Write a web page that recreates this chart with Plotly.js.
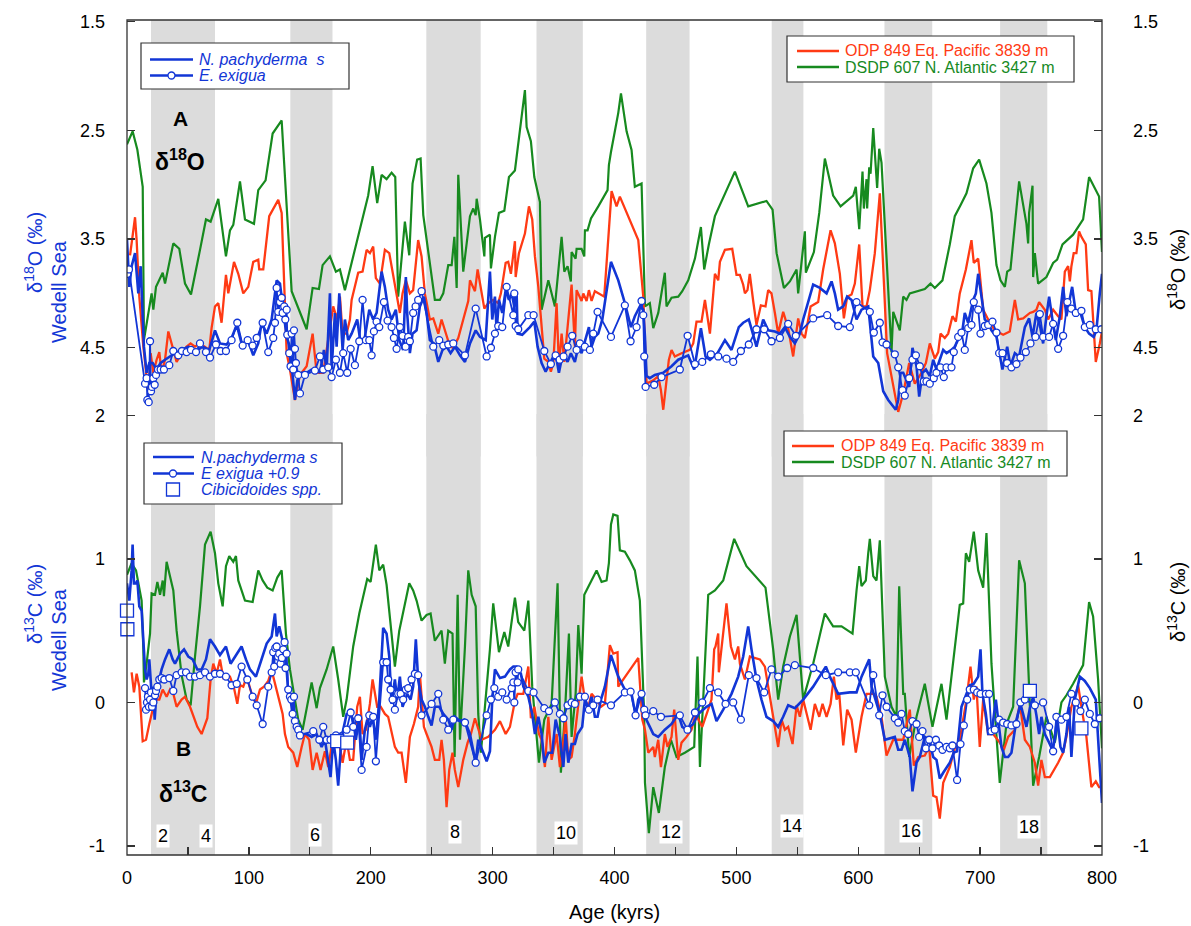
<!DOCTYPE html>
<html><head><meta charset="utf-8">
<script src="https://cdn.plot.ly/plotly-3.0.1.min.js"></script>
<style>html,body{margin:0;padding:0;background:#fff}#chart{width:1191px;height:926px}</style>
</head><body><div id="chart"></div>
<script>
// ---------------- DATA ----------------
// Glacial stages (grey bands), kyr
const glacialStart = [19.7, 134, 245.6, 336, 426, 529, 621.5, 716.4];
const glacialEnd   = [72.2, 168.6, 290.2, 374, 461.6, 555, 660.7, 755.1];
const stageNumbers = ['2','4','6','8','10','12','14','16','18'];
const stageAges    = [29.5, 64.6, 154, 269, 360, 446.7, 545.5, 643, 740];

// Panel A: d18O  [age kyr, permil]
const dsdp607_d18O = [[0,2.63],[4.6,2.51],[8.5,2.68],[12.9,3.02],[13.9,4.43],[20.2,4.00],[21.6,4.15],[23.8,3.94],[29.3,3.81],[31.2,3.91],[38.0,3.54],[42.9,3.59],[47.6,3.91],[52.5,4.01],[59.9,3.60],[64.8,3.32],[68.6,3.34],[74.9,3.13],[81.2,3.66],[84.5,3.42],[87.2,3.37],[92.7,2.97],[96.8,3.32],[104.2,3.36],[107.7,3.05],[113.7,2.96],[119.5,2.53],[126.9,2.41],[135.1,3.98],[141.9,4.18],[147.4,4.33],[152.3,3.95],[157.5,3.96],[160.5,3.74],[166.5,3.66],[171.4,3.80],[174.7,3.78],[178.8,3.97],[197.9,3.10],[201.5,2.83],[205.3,3.17],[208.9,2.91],[213.0,2.95],[217.1,2.89],[220.1,2.93],[222.5,4.03],[228.0,3.34],[231.6,3.65],[234.3,2.99],[238.1,2.77],[240.9,2.76],[243.1,3.28],[252.6,4.06],[256.7,4.06],[259.5,4.00],[263.6,3.74],[266.4,3.74],[268.6,3.48],[270.5,3.95],[271.8,2.91],[275.9,3.80],[281.4,3.29],[284.1,3.22],[286.1,3.28],[286.9,3.13],[289.6,3.32],[293.2,3.66],[293.7,3.49],[297.8,3.46],[298.6,3.77],[301.9,3.48],[305.2,3.26],[309.6,3.24],[313.4,2.93],[318.3,2.87],[326.5,2.13],[327.9,2.47],[331.4,2.60],[334.2,2.93],[338.8,3.16],[340.2,4.15],[345.7,3.88],[351.1,4.12],[356.6,3.48],[358.8,3.80],[361.5,3.75],[364.2,3.89],[364.8,3.62],[368.1,3.68],[368.9,3.59],[373.0,3.59],[375.2,3.66],[375.7,3.42],[377.9,3.42],[380.7,3.31],[386.7,3.20],[390.0,3.13],[394.3,3.05],[395.4,2.82],[397.1,2.70],[403.1,2.34],[405.3,2.16],[409.9,2.51],[414.0,2.68],[416.7,3.02],[422.2,2.99],[425.0,4.12],[429.0,4.09],[431.8,4.32],[435.9,4.18],[441.3,3.81],[442.7,4.12],[446.8,4.04],[452.3,4.03],[455.6,3.98],[460.5,3.88],[466.0,3.68],[470.9,3.39],[473.6,3.78],[477.4,3.55],[482.4,3.29],[498.8,2.88],[509.7,3.20],[524.7,3.15],[529.7,3.23],[533.0,3.63],[539.0,3.95],[543.9,3.89],[549.4,3.78],[550.7,4.00],[556.2,3.43],[557.0,3.81],[563.6,3.62],[568.0,3.26],[572.6,2.76],[579.4,3.10],[585.5,3.20],[595.9,3.10],[598.0,3.02],[600.8,3.41],[603.5,2.88],[604.6,3.22],[606.8,2.95],[607.3,3.22],[609.0,2.84],[610.1,2.90],[612.3,2.48],[615.5,3.03],[617.2,2.67],[619.1,2.80],[627.3,4.54],[628.7,4.17],[634.1,4.34],[636.9,4.03],[639.6,4.06],[642.3,4.00],[654.6,3.96],[659.3,3.91],[662.8,3.95],[669.1,3.88],[675.1,3.55],[679.2,3.29],[683.9,3.19],[688.8,3.08],[694.3,2.85],[699.2,2.77],[705.2,2.99],[709.3,3.26],[713.4,3.74],[716.7,3.88],[720.3,3.94],[722.2,3.80],[724.9,3.78],[732.0,2.97],[738.0,3.36],[739.4,3.54],[740.2,3.26],[743.0,3.01],[743.5,3.85],[744.9,3.63],[747.6,3.91],[754.4,3.85],[759.9,3.72],[763.2,3.69],[767.6,3.55],[776.3,3.46],[784.5,3.32],[789.4,2.93],[797.6,3.11],[800,3.62]];

const odp849_d18O = [[2.5,3.65],[4.6,3.48],[6.6,3.30],[7.9,3.51],[10.1,4.03],[13.4,4.49],[15.6,4.76],[17.5,4.92],[19.4,4.55],[21.6,4.73],[24.3,4.61],[26.5,4.54],[28.4,4.73],[31.2,4.61],[33.9,4.35],[37.5,4.49],[40.7,4.63],[44.8,4.55],[48.9,4.49],[52.2,4.46],[55.8,4.49],[59.9,4.46],[64.0,4.49],[67.5,4.52],[69.4,4.32],[72.2,4.12],[74.9,4.09],[77.6,4.27],[81.2,3.83],[83.1,4.00],[87.8,3.71],[91.3,3.82],[95.4,4.00],[99.5,3.94],[103.6,3.71],[107.7,3.69],[108.5,3.78],[111.8,3.78],[116.7,3.29],[124.1,3.14],[126.9,3.26],[131.0,4.55],[133.7,4.70],[137.8,4.98],[141.9,4.75],[147.4,4.67],[152.3,4.37],[155.6,4.73],[161.0,4.73],[165.1,4.43],[169.2,4.12],[172.5,4.24],[174.7,4.03],[176.9,4.37],[180.2,4.37],[182.9,4.24],[184.3,4.06],[189.7,3.81],[193.3,3.80],[196.6,3.60],[199.3,3.63],[202.0,3.57],[204.2,3.86],[207.5,3.91],[211.6,3.60],[215.2,3.63],[219.8,3.94],[223.9,4.18],[226.1,4.00],[228.8,3.88],[232.1,4.00],[234.8,3.97],[238.9,3.51],[241.7,3.66],[244.4,4.00],[248.5,4.24],[251.3,4.23],[255.4,4.37],[258.1,4.24],[261.6,4.37],[265.0,4.49],[267.7,4.50],[271.8,4.41],[275.9,4.24],[280.0,4.07],[281.4,3.88],[285.5,3.98],[287.7,3.78],[293.2,4.14],[296.4,4.09],[300.5,4.06],[304.6,4.09],[306.8,4.00],[310.7,3.72],[312.8,3.71],[315.0,3.82],[318.3,3.52],[318.9,3.85],[321.6,3.63],[326.5,3.45],[329.8,3.20],[332.5,3.32],[334.7,3.66],[337.5,3.94],[339.6,4.24],[342.4,4.60],[345.7,4.63],[347.8,4.72],[349.8,4.64],[352.5,4.09],[354.4,4.67],[356.6,4.37],[358.8,4.63],[361.5,4.31],[364.8,3.92],[367.5,4.49],[368.9,3.97],[373.0,4.07],[374.4,4.00],[377.1,4.07],[379.0,3.97],[381.2,4.07],[383.9,3.98],[391.6,4.03],[394.3,3.60],[397.6,3.06],[401.7,3.20],[404.4,3.11],[419.5,3.51],[422.2,3.88],[423.6,4.03],[426.3,4.83],[431.8,4.80],[435.9,4.76],[438.1,4.89],[440.0,5.07],[442.7,4.83],[444.6,4.61],[446.8,4.52],[449.5,4.58],[455.0,4.55],[461.8,4.52],[464.6,4.46],[467.3,4.26],[471.4,4.26],[474.2,4.06],[478.3,4.37],[482.4,3.82],[485.1,3.88],[486.5,3.71],[490.6,3.60],[496.6,3.59],[500.1,3.83],[502.9,3.83],[505.6,3.92],[507.0,4.00],[509.1,3.97],[511.0,3.82],[513.8,4.07],[516.5,4.29],[520.1,4.11],[523.9,4.12],[526.1,3.97],[528.8,4.00],[531.6,4.18],[534.3,4.37],[538.4,4.17],[542.5,4.32],[546.6,4.58],[550.7,4.23],[553.5,4.37],[556.2,4.41],[560.9,4.12],[567.1,4.08],[571.2,3.78],[577.3,3.42],[580.8,3.54],[584.9,3.82],[588.2,4.23],[590.9,4.03],[594.5,4.01],[597.2,3.91],[600.8,3.55],[603.5,4.12],[606.8,4.12],[609.5,3.97],[613.6,3.63],[617.7,3.08],[623.7,4.55],[628.7,4.86],[632.8,5.09],[636.9,4.92],[641.8,4.64],[646.4,4.83],[651.9,4.73],[655.5,4.64],[658.7,4.46],[662.8,4.60],[665.6,4.54],[667.5,4.37],[671.0,4.41],[673.8,4.37],[677.3,4.21],[680.1,4.26],[683.3,4.00],[688.3,3.78],[692.9,3.51],[694.8,3.72],[698.4,3.68],[699.7,3.82],[702.5,4.15],[706.6,4.24],[712.0,4.34],[718.9,4.38],[724.3,4.35],[728.5,4.06],[731.2,4.24],[735.3,4.23],[740.8,4.18],[743.5,4.17],[746.2,4.15],[748.4,4.08],[753.1,4.15],[755.8,4.24],[759.9,4.15],[764.0,4.21],[766.7,4.24],[769.5,3.80],[772.2,3.75],[773.6,3.89],[774.9,3.75],[776.8,3.63],[779.0,3.63],[781.2,3.43],[783.1,3.48],[786.7,3.55],[788.6,3.97],[791.3,3.98],[794.9,4.63],[798.2,4.46],[800,4.35]];

const npachy_d18O = [[0,3.51],[1.9,3.94],[3.8,3.75],[6.6,3.63],[9.3,4.00],[11.2,3.75],[13.9,4.49],[16.1,4.73],[18.3,4.64],[21.1,4.64],[24.3,4.70],[27.6,4.64],[31.2,4.61],[35.3,4.58],[39.4,4.55],[44.8,4.52],[50.3,4.49],[56.6,4.53],[62.1,4.49],[67.5,4.52],[72.2,4.34],[76.3,4.46],[81.7,4.47],[85.8,4.41],[90.0,4.29],[94.0,4.46],[99.5,4.44],[103.6,4.57],[107.7,4.46],[110.5,4.27],[114.6,4.37],[118.7,4.24],[122.8,3.88],[125.5,3.91],[128.2,4.18],[131.0,4.40],[133.7,4.49],[136.4,4.86],[137.8,4.98],[139.7,4.80],[143.3,4.73],[147.4,4.73],[151.5,4.70],[155.6,4.70],[158.3,4.73],[161.6,4.52],[163.8,4.70],[166.5,4.00],[167.9,4.70],[170.6,4.18],[172.0,4.49],[174.2,4.00],[176.9,4.52],[178.8,4.24],[181.5,4.43],[184.3,4.37],[188.9,4.24],[191.7,4.46],[195.2,4.40],[198.8,4.15],[202.0,4.24],[204.8,4.18],[208.9,3.80],[211.6,3.94],[214.3,4.15],[217.1,4.24],[220.6,4.15],[223.4,4.43],[226.6,4.52],[228.8,3.85],[229.9,4.18],[232.1,4.55],[234.3,4.37],[237.6,4.34],[240.3,4.12],[243.6,4.03],[245.8,4.18],[248.5,4.43],[251.8,4.46],[255.4,4.63],[258.9,4.52],[262.2,4.49],[265.5,4.55],[269.1,4.49],[273.2,4.57],[277.3,4.63],[281.4,4.46],[286.1,4.34],[289.6,4.40],[294.3,4.43],[297.8,3.80],[299.7,4.24],[301.9,4.03],[303.3,4.34],[305.2,4.06],[307.9,4.18],[310.7,3.97],[313.4,4.06],[315.6,4.00],[317.8,4.12],[319.7,4.00],[320.5,4.37],[324.3,4.38],[330.6,4.31],[334.2,4.26],[336.9,4.49],[340.2,4.64],[343.5,4.72],[347.0,4.64],[349.8,4.58],[352.5,4.61],[354.4,4.73],[357.1,4.58],[359.3,4.58],[361.5,4.63],[364.2,4.55],[367.5,4.63],[370.3,4.49],[373.0,4.55],[375.7,4.43],[379.0,4.31],[381.2,4.49],[383.9,4.40],[386.7,4.37],[390.0,4.24],[397.1,3.71],[403.1,3.88],[408.5,4.09],[413.5,4.31],[416.7,4.21],[420.8,4.12],[423.6,4.15],[425.0,4.40],[426.3,4.76],[429.0,4.78],[433.1,4.75],[440.0,4.73],[446.8,4.67],[452.3,4.61],[460.5,4.57],[465.4,4.70],[470.9,4.32],[474.7,4.58],[478.3,4.61],[484.5,4.55],[490.6,4.43],[496.0,4.52],[502.0,4.31],[505.6,4.27],[510.2,4.24],[513.8,4.37],[516.5,4.49],[522.0,4.24],[526.1,4.34],[531.6,4.35],[535.7,4.37],[539.8,4.31],[543.9,4.40],[548.0,4.46],[552.1,4.37],[554.8,4.24],[563.0,3.92],[568.5,3.95],[574.0,4.00],[578.1,3.89],[580.8,4.00],[583.5,4.15],[587.7,4.12],[590.9,4.03],[594.5,4.06],[598.6,4.24],[602.7,4.15],[608.2,4.12],[610.9,4.43],[612.3,4.58],[616.4,4.64],[620.5,4.90],[624.6,4.98],[628.7,5.04],[630.8,5.07],[632.8,4.98],[634.7,4.73],[636.9,4.73],[641.8,4.86],[644.5,4.50],[647.8,4.67],[650.0,4.95],[652.7,4.73],[655.5,4.70],[658.7,4.76],[661.5,4.61],[664.2,4.70],[666.9,4.61],[669.7,4.52],[672.4,4.55],[676.5,4.52],[679.2,4.49],[683.3,4.40],[685.5,4.34],[687.4,4.18],[690.2,4.27],[694.3,4.06],[696.5,4.00],[698.4,3.82],[701.1,4.03],[703.8,4.24],[706.6,4.27],[709.3,4.34],[713.4,4.40],[716.1,4.55],[718.3,4.70],[722.2,4.49],[724.9,4.67],[728.5,4.55],[732.0,4.58],[736.7,4.31],[740.2,4.23],[743.0,4.40],[746.2,4.18],[749.5,4.32],[751.7,4.46],[754.4,4.21],[756.6,4.03],[759.3,4.24],[762.1,4.43],[765.4,4.21],[768.1,3.94],[770.8,4.21],[773.6,4.06],[775.5,3.94],[778.5,4.18],[782.3,4.18],[785.9,4.31],[789.4,4.37],[793.2,4.40],[795.4,4.34],[798.2,4.00],[800,3.82]];

const exigua_d18O = [[0.3,3.82],[1.6,3.78],[14.8,4.83],[16.1,4.78],[16.7,4.98],[17.8,5.00],[18.9,4.44],[19.7,4.90],[20.5,4.86],[21.6,4.78],[22.7,4.84],[23.8,4.75],[25.4,4.70],[27.6,4.70],[30.3,4.70],[34.7,4.66],[38.0,4.53],[42.1,4.57],[45.1,4.53],[48.9,4.54],[52.5,4.52],[56.6,4.54],[59.9,4.46],[64.8,4.54],[68.1,4.59],[73.0,4.47],[76.8,4.53],[81.2,4.53],[85.8,4.43],[90.5,4.27],[94.9,4.48],[99.0,4.43],[103.1,4.48],[106.4,4.41],[111.3,4.27],[115.9,4.54],[120.0,4.41],[121.4,4.27],[122.8,3.95],[124.1,4.17],[125.5,4.08],[126.9,4.04],[127.7,4.18],[129.0,4.12],[129.9,4.24],[131.0,4.15],[131.5,4.38],[133.1,4.55],[134.2,4.67],[135.1,4.37],[136.4,4.70],[137.0,4.34],[137.8,4.51],[138.6,4.64],[140.5,4.75],[141.9,4.92],[146.0,4.75],[154.2,4.71],[158.3,4.58],[161.0,4.70],[165.1,4.68],[167.9,4.77],[171.4,4.61],[174.7,4.73],[177.4,4.55],[180.7,4.73],[183.5,4.51],[187.0,4.66],[190.6,4.44],[193.3,4.06],[196.0,4.43],[198.8,4.43],[200.7,4.57],[202.6,4.35],[204.8,4.26],[207.0,4.31],[210.8,4.08],[213.8,4.25],[217.1,4.31],[219.0,4.41],[221.2,4.51],[223.9,4.31],[226.1,4.39],[228.6,4.49],[230.7,4.40],[232.1,4.44],[234.8,4.18],[236.8,4.12],[238.9,4.06],[241.7,3.98],[251.3,4.49],[256.2,4.43],[259.5,4.48],[263.6,4.47],[267.7,4.46],[277.3,4.57],[286.1,4.14],[295.1,4.58],[298.6,4.50],[301.9,4.37],[304.6,4.30],[307.9,4.31],[311.5,3.94],[317.0,4.20],[317.8,4.00],[318.9,4.30],[321.0,4.33],[329.3,4.20],[333.6,4.20],[342.4,4.53],[347.8,4.65],[351.7,4.57],[355.0,4.61],[358.2,4.58],[361.5,4.49],[365.3,4.39],[368.9,4.52],[371.6,4.46],[375.7,4.49],[379.8,4.52],[382.6,4.37],[386.1,4.17],[397.1,4.40],[408.5,4.11],[413.2,4.44],[418.1,4.31],[422.2,4.07],[423.6,4.20],[424.4,4.58],[425.5,4.86],[432.6,4.84],[438.6,4.77],[453.6,4.70],[460.0,4.39],[466.0,4.65],[472.0,4.63],[479.1,4.56],[485.1,4.58],[491.9,4.60],[497.4,4.63],[503.7,4.53],[510.2,4.47],[516.5,4.33],[522.8,4.33],[528.8,4.44],[535.7,4.41],[542.5,4.28],[548.8,4.39],[563.0,4.23],[574.5,4.20],[583.5,4.30],[593.1,4.31],[598.6,4.08],[609.5,4.17],[612.8,4.36],[617.7,4.27],[619.9,4.45],[623.2,4.47],[630.0,4.56],[632.8,4.68],[636.3,4.89],[638.2,4.94],[641.8,4.78],[644.5,4.61],[647.3,4.57],[650.5,4.67],[653.8,4.81],[656.0,4.81],[658.7,4.83],[662.0,4.78],[664.2,4.73],[667.5,4.68],[670.2,4.77],[672.4,4.68],[676.5,4.68],[678.4,4.54],[682.0,4.40],[684.7,4.36],[687.4,4.52],[690.2,4.32],[692.9,4.29],[694.8,4.08],[698.4,4.15],[700.3,4.37],[703.8,4.30],[706.6,4.29],[710.1,4.26],[713.4,4.36],[715.6,4.55],[718.3,4.55],[722.2,4.64],[725.7,4.68],[729.8,4.65],[733.1,4.59],[737.5,4.54],[741.3,4.46],[745.4,4.40],[749.0,4.19],[751.7,4.40],[756.6,4.40],[759.9,4.28],[764.0,4.51],[768.1,4.39],[771.6,4.08],[774.9,4.14],[778.5,4.18],[783.1,4.16],[785.9,4.31],[790.0,4.29],[794.9,4.33],[799.5,4.33]];

// Panel B: d13C  [age kyr, permil]
const dsdp607_d13C = [[0,0.89],[3.8,0.97],[7.4,0.92],[10.1,0.81],[12.0,0.71],[13.4,0.37],[13.9,0.14],[16.1,0.27],[18.9,0.48],[20.2,0.76],[23.0,0.75],[24.9,0.84],[27.1,0.75],[29.3,0.85],[30.3,0.74],[32.5,0.98],[38.0,0.78],[40.7,0.50],[44.8,0.19],[48.9,0.02],[52.2,-0.02],[55.8,0.32],[59.9,0.67],[64.0,1.10],[68.6,1.19],[72.2,1.04],[74.9,0.83],[78.5,0.67],[81.2,0.95],[83.9,1.02],[87.2,0.98],[89.4,1.02],[91.3,0.85],[96.8,0.71],[103.1,0.70],[107.7,0.92],[111.3,0.85],[115.1,0.80],[119.5,0.78],[123.3,0.87],[126.9,0.92],[130.4,0.48],[133.7,0.23],[137.0,0.06],[140.5,-0.12],[144.1,-0.19],[151.5,0.14],[155.6,-0.04],[158.3,0.10],[163.8,0.23],[169.2,0.39],[173.3,0.16],[177.4,-0.10],[180.2,0.02],[185.6,0.39],[190.6,0.62],[197.1,0.86],[199.9,0.84],[204.2,1.10],[207.0,0.92],[210.2,0.96],[213.0,0.82],[215.7,0.60],[219.8,0.25],[223.4,0.50],[226.6,0.62],[231.6,0.83],[234.8,0.78],[237.6,0.71],[241.7,0.57],[245.8,0.61],[249.1,0.62],[252.6,0.43],[258.1,0.50],[260.8,0.27],[263.6,0.50],[267.1,0.48],[268.8,-0.38],[271.3,0.75],[273.2,-0.26],[277.3,0.39],[280.0,0.92],[282.8,0.75],[286.1,0.67],[288.2,-0.08],[290.4,-0.35],[293.7,-0.03],[297.8,0.37],[300.5,0.69],[305.2,0.35],[309.6,0.49],[312.8,0.39],[318.3,0.73],[321.0,0.56],[326.0,0.50],[329.3,0.71],[332.5,0.11],[338.0,-0.42],[342.4,-0.12],[348.4,-0.01],[353.3,0.83],[356.0,-0.49],[359.3,-0.08],[362.6,0.48],[364.8,-0.24],[368.1,0.06],[370.3,0.54],[373.0,0.20],[375.2,0.75],[379.8,0.83],[385.3,0.92],[389.4,0.84],[393.5,0.85],[395.4,0.97],[397.1,1.24],[399.0,1.31],[402.5,1.30],[404.4,1.06],[408.5,1.05],[412.6,0.99],[416.7,0.92],[420.8,0.71],[424.4,-0.10],[425.0,-0.56],[428.2,-0.91],[431.8,-0.59],[436.4,-0.77],[441.3,-0.45],[446.3,-0.26],[450.9,-0.38],[457.7,-0.35],[465.4,-0.31],[468.1,0.32],[470.1,-0.45],[476.9,0.75],[482.4,0.78],[489.2,0.85],[498.2,1.14],[508.3,0.95],[523.9,0.80],[530.2,0.37],[534.3,0.02],[538.4,0.25],[543.9,0.46],[549.4,0.61],[554.8,0.02],[563.0,0.27],[572.6,0.62],[579.4,0.53],[586.3,0.53],[595.3,0.48],[598.6,0.78],[600.8,0.95],[602.7,0.81],[606.2,0.85],[608.2,1.04],[609.5,1.14],[612.3,0.88],[615.0,0.85],[617.7,1.13],[621.8,0.18],[627.3,-0.03],[631.4,-0.10],[633.6,0.81],[636.9,0.06],[638.2,0.06],[641.8,-0.38],[647.8,-0.10],[654.6,0.13],[660.9,-0.17],[668.3,0.13],[672.4,-0.12],[677.9,0.27],[683.3,0.68],[686.1,0.69],[688.3,1.04],[691.0,0.98],[694.8,1.19],[698.4,0.92],[702.5,0.80],[705.2,1.18],[709.3,0.27],[716.1,-0.56],[721.6,-0.15],[727.1,-0.03],[732.0,0.99],[736.7,0.83],[743.5,-0.58],[748.4,-0.38],[754.4,-0.10],[761.3,-0.28],[766.7,0.00],[770.8,0.05],[776.3,0.13],[784.5,0.26],[789.4,0.70],[792.7,0.60],[796.8,0.16],[800,-0.32]];

const odp849_d13C = [[3.8,0.21],[5.7,0.07],[7.9,0.20],[10.1,0.11],[12.9,-0.27],[15.6,-0.26],[18.3,-0.15],[20.2,-0.08],[23.0,0.02],[26.5,0.02],[29.3,0.09],[32.5,0.04],[35.3,0.09],[38.0,0.06],[40.7,-0.03],[44.8,0.02],[47.6,0.04],[51.7,-0.03],[54.4,-0.09],[57.7,-0.17],[61.2,-0.22],[65.9,-0.11],[68.6,0.16],[70.8,0.27],[73.5,0.20],[76.3,0.30],[79.0,0.17],[82.3,0.18],[84.5,0.18],[87.8,0.10],[90.5,-0.01],[92.7,0.12],[95.4,0.11],[98.2,0.18],[102.3,0.06],[105.8,-0.01],[109.1,0.09],[112.4,0.11],[115.9,0.15],[117.8,0.20],[120.0,0.18],[122.8,0.09],[125.5,-0.01],[127.7,-0.08],[129.6,-0.22],[132.3,-0.31],[136.4,-0.35],[139.7,-0.45],[143.3,-0.31],[146.0,-0.22],[149.5,-0.26],[152.3,-0.47],[155.6,-0.35],[158.8,-0.47],[162.4,-0.34],[165.1,-0.45],[169.2,-0.24],[172.0,-0.24],[174.7,-0.31],[176.9,-0.42],[180.2,-0.26],[182.9,-0.40],[185.6,-0.40],[188.9,-0.03],[191.1,0.04],[193.3,-0.22],[196.0,-0.19],[199.3,-0.01],[201.5,0.16],[205.3,-0.03],[208.1,-0.03],[211.6,-0.08],[214.3,-0.10],[217.1,-0.22],[219.8,-0.31],[222.5,-0.35],[225.3,-0.35],[228.8,-0.56],[232.1,-0.24],[235.4,-0.15],[238.9,-0.03],[240.3,0.20],[243.6,-0.17],[245.8,-0.22],[249.9,-0.31],[252.6,-0.40],[256.2,-0.40],[258.1,-0.26],[260.0,-0.40],[262.2,-0.73],[264.4,-0.47],[267.1,-0.35],[269.0,-0.47],[271.8,-0.59],[275.9,-0.40],[279.5,-0.28],[282.2,-0.22],[285.5,-0.11],[291.0,-0.26],[296.4,-0.24],[301.9,-0.19],[306.0,-0.13],[310.7,-0.22],[314.2,-0.17],[318.3,0.01],[320.5,0.06],[325.2,0.06],[329.3,0.25],[331.4,-0.11],[334.2,-0.03],[338.0,-0.22],[340.2,-0.26],[342.9,-0.45],[345.7,-0.10],[348.4,-0.40],[352.5,-0.22],[355.2,-0.45],[357.1,-0.35],[359.9,-0.10],[362.1,-0.40],[364.8,-0.38],[367.5,-0.22],[370.3,-0.03],[373.0,0.18],[375.7,0.02],[378.5,-0.03],[381.2,0.06],[385.3,0.02],[388.9,-0.03],[392.1,-0.01],[396.2,0.40],[399.0,0.34],[402.5,0.35],[403.1,0.11],[419.5,0.31],[422.8,-0.12],[425.0,-0.19],[427.7,-0.35],[431.8,-0.31],[433.1,-0.38],[435.9,-0.26],[438.1,-0.45],[441.3,-0.22],[443.5,-0.31],[446.8,-0.24],[449.0,-0.05],[452.3,-0.40],[455.0,-0.28],[459.1,-0.24],[463.2,-0.19],[466.5,-0.08],[472.0,-0.17],[479.6,0.02],[481.8,0.37],[482.9,0.39],[485.1,0.48],[485.6,0.21],[488.4,0.43],[491.9,0.69],[493.3,0.57],[495.5,0.39],[498.8,0.30],[501.5,0.39],[502.9,0.27],[507.0,0.16],[511.1,0.32],[519.3,0.30],[523.4,0.25],[527.5,0.04],[530.2,-0.08],[534.3,-0.31],[537.1,-0.12],[539.8,-0.19],[542.5,-0.17],[546.1,-0.29],[549.4,-0.02],[552.1,-0.10],[554.8,0.02],[557.6,-0.08],[560.9,-0.19],[564.4,-0.01],[568.0,-0.10],[570.7,-0.01],[574.0,-0.10],[577.3,-0.01],[580.0,0.18],[582.2,0.02],[584.4,0.06],[587.7,-0.30],[590.9,-0.05],[594.5,-0.12],[598.0,-0.35],[602.7,-0.10],[606.8,0.06],[612.3,0.06],[615.0,0.04],[619.1,-0.10],[623.2,-0.37],[628.7,-0.26],[632.8,-0.26],[636.9,-0.26],[642.3,-0.05],[645.6,-0.44],[649.2,-0.38],[654.6,-0.37],[658.2,-0.31],[661.5,-0.65],[664.2,-0.66],[666.9,-0.81],[669.7,-0.56],[675.1,-0.45],[679.2,-0.32],[683.3,-0.26],[688.8,0.02],[692.1,0.25],[694.8,0.02],[697.0,0.11],[699.7,-0.31],[702.5,0.02],[706.6,-0.22],[710.7,-0.22],[716.1,-0.28],[719.4,-0.33],[723.0,-0.24],[728.5,-0.19],[732.6,-0.01],[736.7,-0.26],[740.8,-0.31],[744.9,-0.42],[747.6,-0.58],[750.3,-0.40],[753.1,-0.52],[757.2,-0.52],[764.0,-0.42],[768.1,-0.35],[770.8,-0.24],[774.9,-0.03],[777.7,0.04],[780.4,0.12],[783.1,-0.03],[787.2,-0.24],[791.3,-0.59],[794.9,-0.55],[797.6,-0.59],[800,-0.59]];

const npachy_d13C = [[0,0.83],[1.9,0.71],[3.8,0.92],[4.6,1.10],[5.7,0.83],[7.4,0.83],[8.5,0.85],[10.1,0.67],[12.0,0.64],[13.9,0.41],[14.8,0.23],[16.1,0.16],[17.5,0.20],[18.3,0.30],[19.4,0.11],[20.5,0.02],[21.6,0.11],[22.7,-0.12],[23.8,0.02],[25.7,0.13],[28.4,0.23],[31.2,0.30],[34.7,0.37],[37.5,0.30],[39.4,0.27],[43.5,0.34],[46.8,0.37],[50.3,0.32],[53.9,0.30],[57.7,0.23],[61.2,0.23],[64.8,0.30],[68.1,0.44],[72.2,0.39],[76.3,0.33],[81.2,0.39],[85.0,0.27],[90.0,0.34],[94.0,0.39],[97.6,0.30],[100.9,0.23],[105.8,0.18],[109.1,0.27],[114.6,0.41],[118.7,0.46],[121.4,0.62],[122.8,0.46],[124.9,0.53],[128.2,0.41],[131.0,0.23],[132.3,0.06],[134.2,0.02],[135.9,-0.08],[137.8,-0.17],[140.5,-0.19],[144.1,-0.22],[147.4,-0.22],[151.5,-0.24],[155.6,-0.22],[159.7,-0.31],[162.4,-0.26],[165.1,-0.42],[167.0,-0.52],[169.2,-0.26],[171.4,-0.40],[173.3,-0.58],[175.3,-0.33],[177.4,-0.19],[180.2,-0.08],[183.5,-0.08],[185.6,-0.12],[187.8,-0.26],[190.6,-0.10],[192.5,-0.40],[195.2,-0.19],[197.1,-0.12],[199.3,-0.17],[201.5,-0.10],[204.2,-0.26],[207.0,0.02],[210.2,0.52],[213.0,0.48],[215.2,0.32],[217.1,-0.01],[219.8,0.16],[221.7,0.02],[223.9,0.18],[226.1,-0.03],[228.0,0.02],[229.9,0.06],[232.7,0.02],[234.8,0.11],[237.0,0.44],[238.9,0.16],[241.7,0.02],[244.4,-0.03],[247.2,-0.10],[249.9,-0.16],[252.6,-0.03],[256.2,-0.03],[259.5,-0.08],[263.6,-0.12],[266.3,-0.19],[269.0,-0.10],[273.2,-0.13],[276.8,-0.12],[281.4,-0.22],[286.1,-0.42],[288.2,-0.26],[292.3,-0.35],[295.1,-0.41],[297.8,-0.34],[299.7,0.02],[301.9,0.23],[306.0,0.17],[310.1,0.18],[314.2,0.23],[317.0,0.25],[319.7,0.25],[323.2,0.20],[325.2,0.11],[329.3,0.04],[332.5,-0.08],[334.7,-0.22],[337.5,-0.10],[340.2,-0.22],[342.4,-0.42],[345.7,-0.35],[348.9,-0.35],[351.7,-0.12],[355.2,-0.24],[358.0,-0.45],[359.9,-0.22],[362.1,-0.42],[364.8,-0.29],[367.5,-0.29],[369.7,-0.22],[373.5,-0.17],[375.7,0.02],[378.5,-0.05],[381.2,0.04],[383.9,-0.10],[386.1,-0.10],[388.9,0.02],[392.1,0.11],[397.1,0.33],[403.1,0.18],[408.5,0.09],[414.0,0.06],[417.3,-0.09],[419.5,0.02],[422.2,0.06],[425.0,-0.10],[429.0,-0.17],[431.8,-0.22],[435.9,-0.24],[441.3,-0.19],[446.8,-0.15],[452.3,-0.08],[455.6,-0.17],[459.1,-0.19],[464.6,-0.15],[468.7,-0.08],[475.5,-0.03],[479.6,-0.01],[483.7,-0.13],[489.2,-0.05],[496.0,0.06],[501.5,0.18],[505.6,0.32],[509.7,0.53],[512.4,0.37],[516.5,0.16],[520.6,0.02],[524.7,-0.10],[530.2,-0.13],[534.3,-0.17],[538.4,-0.10],[542.5,-0.02],[548.0,-0.04],[554.8,0.02],[563.0,0.11],[568.5,0.18],[573.4,0.25],[576.7,0.18],[583.5,0.06],[593.1,0.07],[598.6,0.07],[602.7,0.18],[609.0,0.30],[610.9,0.11],[614.4,0.02],[617.7,-0.08],[621.8,-0.26],[625.9,-0.25],[630.0,-0.24],[632.8,-0.33],[635.5,-0.33],[638.2,-0.26],[642.3,-0.38],[644.5,-0.62],[647.8,-0.42],[650.5,-0.38],[654.6,-0.24],[658.2,-0.26],[661.5,-0.38],[664.2,-0.40],[666.9,-0.53],[669.7,-0.49],[672.4,-0.45],[675.1,-0.42],[678.4,-0.35],[681.1,-0.34],[684.7,-0.03],[688.8,0.06],[691.5,0.12],[694.8,0.13],[698.4,0.18],[700.3,0.37],[701.9,0.06],[704.7,-0.08],[706.6,-0.22],[709.3,-0.22],[712.9,0.02],[714.8,-0.12],[717.5,-0.31],[720.3,-0.38],[723.0,-0.38],[725.7,-0.35],[729.8,-0.12],[733.1,-0.01],[735.3,-0.08],[738.0,-0.17],[740.8,-0.04],[743.5,0.04],[746.2,-0.09],[748.4,-0.22],[750.3,-0.10],[753.1,-0.22],[756.6,-0.28],[759.3,-0.33],[761.3,-0.26],[763.2,-0.10],[765.9,-0.31],[768.1,-0.35],[770.8,-0.22],[773.0,-0.03],[774.9,-0.38],[777.7,0.02],[781.8,0.18],[785.9,0.15],[790.0,0.10],[794.9,0.02],[798.2,-0.45],[800,-0.70]];

const exigua_d13C = [[14.8,0.10],[15.6,-0.05],[16.4,0.00],[17.2,0.04],[18.0,-0.03],[18.9,0.02],[19.7,0.07],[20.5,-0.03],[21.6,0.00],[23.0,0.05],[23.8,0.08],[24.9,0.11],[26.5,0.16],[28.4,0.17],[30.6,0.16],[34.7,0.17],[38.0,0.08],[40.7,0.19],[44.8,0.21],[48.4,0.21],[51.7,0.18],[55.8,0.18],[59.9,0.19],[64.0,0.21],[68.1,0.18],[72.2,0.20],[76.3,0.20],[81.2,0.18],[85.8,0.12],[90.0,0.13],[94.0,0.25],[98.7,0.16],[103.1,0.04],[106.4,-0.02],[111.3,-0.15],[115.9,0.11],[118.7,0.21],[120.0,0.35],[120.8,0.25],[121.7,0.38],[122.8,0.39],[123.9,0.32],[124.9,0.34],[126.0,0.27],[127.1,0.31],[128.2,0.37],[129.3,0.42],[130.1,0.24],[131.0,0.34],[132.3,0.09],[133.7,0.04],[134.8,0.02],[135.9,-0.08],[137.0,0.04],[137.8,-0.13],[139.2,-0.17],[140.5,-0.19],[141.9,-0.23],[152.8,-0.20],[157.8,-0.26],[161.0,-0.17],[163.8,-0.26],[167.0,-0.26],[171.4,-0.23],[180.2,-0.19],[183.5,-0.07],[185.6,-0.17],[189.7,-0.11],[192.5,-0.47],[196.6,-0.31],[198.8,-0.09],[202.0,-0.10],[204.2,-0.41],[210.2,0.28],[213.0,0.28],[214.3,0.16],[216.3,0.09],[217.9,0.02],[219.8,-0.05],[222.5,0.06],[224.5,0.06],[226.6,0.02],[228.8,0.09],[230.7,0.10],[233.5,0.16],[236.2,0.20],[238.9,0.19],[241.7,-0.09],[249.9,-0.01],[255.4,0.06],[259.5,-0.12],[263.6,-0.19],[267.7,-0.12],[277.3,-0.14],[286.1,-0.42],[295.1,-0.09],[298.6,0.02],[301.4,0.10],[304.6,0.04],[307.9,0.07],[311.5,0.02],[315.6,0.10],[317.0,0.14],[317.8,0.00],[318.9,0.21],[320.5,0.14],[321.0,0.23],[329.3,0.08],[333.6,0.07],[342.4,-0.04],[346.2,-0.06],[351.1,0.00],[355.2,-0.08],[358.2,-0.11],[361.5,-0.02],[364.8,0.00],[367.5,-0.01],[371.6,0.04],[375.7,0.04],[379.0,-0.05],[382.6,-0.02],[386.1,0.02],[397.1,-0.02],[408.5,0.07],[413.2,0.075],[417.3,-0.09],[422.2,0.06],[424.4,-0.05],[425.5,-0.09],[431.8,-0.06],[438.1,-0.10],[453.6,-0.09],[459.9,-0.19],[466.0,-0.07],[472.0,0.00],[478.3,0.10],[485.1,0.07],[491.1,-0.01],[497.4,0.00],[503.7,-0.12],[510.2,0.19],[516.5,0.17],[522.8,0.07],[528.8,0.23],[534.3,0.18],[541.7,0.24],[548.0,0.26],[563.0,0.24],[573.4,0.19],[583.5,0.21],[593.1,0.21],[598.0,0.21],[609.0,-0.02],[612.3,0.19],[617.2,-0.09],[619.9,0.05],[623.2,-0.03],[630.0,-0.11],[632.8,-0.14],[635.5,-0.08],[638.2,-0.20],[641.0,-0.22],[644.5,-0.13],[647.8,-0.15],[650.0,-0.24],[652.7,-0.20],[655.5,-0.32],[658.2,-0.26],[660.9,-0.32],[663.7,-0.26],[666.4,-0.30],[669.1,-0.33],[672.4,-0.31],[675.1,-0.32],[677.3,-0.30],[681.1,-0.54],[683.9,-0.29],[686.6,-0.16],[689.4,0.02],[691.5,0.09],[694.8,0.09],[697.6,0.07],[700.3,0.06],[704.7,0.06],[707.4,0.06],[709.3,-0.20],[712.0,-0.19],[715.6,-0.12],[718.9,-0.14],[722.2,-0.15],[725.7,-0.16],[729.8,-0.15],[733.1,0.00],[736.7,0.02],[744.9,-0.02],[751.7,0.00],[756.6,-0.17],[759.9,-0.34],[762.6,-0.10],[766.7,-0.12],[770.8,-0.10],[774.9,0.06],[778.5,0.00],[782.3,-0.06],[785.9,0.02],[790.0,-0.08],[794.1,-0.15],[798.2,-0.11]];

const cibicidoides_d13C = [[0,0.64],[0.3,0.51],[172.5,-0.27],[180.7,-0.28],[740.8,0.08],[783.1,-0.18]];

// Axis ticks
const xMajorTicks = [0,100,200,300,400,500,600,700,800];
const xMinorTicks = [50,150,250,350,450,550,650,750];
const d18Ticks = [1.5,2.5,3.5,4.5];
const d18MinorTicks = [5.5];
const d13Ticks = [-1,0,1,2];

// ---------------- STYLE / LAYOUT ----------------
const BLUE = '#1236d6', RED = '#ff3a14', GREEN = '#178a1f', FRAME = '#333';
const FONT = 'Liberation Sans, Arial, Helvetica, sans-serif';
const L = 127, R = 1102, T = 20, B = 855;
const PW = R - L, PH = B - T;
const px = x => (x - L) / PW;
const py = y => (B - y) / PH;
const xs = a => a.map(p => p[0]);
const ys = a => a.map(p => p[1]);

const topDomain = [py(456.5), 1];
const botDomain = [0, py(414)];
const topRange = [5.5, 1.486];
const botRange = [-1.063, 2.01];

function line(data, yaxis, color, width) {
  return {x: xs(data), y: ys(data), xaxis: 'x', yaxis: yaxis, mode: 'lines',
    line: {color: color, width: width}, showlegend: false, hoverinfo: 'skip'};
}
function circles(data, yaxis) {
  return {x: xs(data), y: ys(data), xaxis: 'x', yaxis: yaxis, mode: 'lines+markers',
    line: {color: BLUE, width: 1.8},
    marker: {symbol: 'circle', size: 7, color: '#fff', line: {color: BLUE, width: 1.3}},
    showlegend: false, hoverinfo: 'skip'};
}

const traces = [
  line(dsdp607_d18O, 'y', GREEN, 2.2),
  line(odp849_d18O, 'y', RED, 2.3),
  line(npachy_d18O, 'y', BLUE, 2.6),
  circles(exigua_d18O, 'y'),
  line(dsdp607_d13C, 'y2', GREEN, 2.2),
  line(odp849_d13C, 'y2', RED, 2.3),
  line(npachy_d13C, 'y2', BLUE, 2.6),
  circles(exigua_d13C, 'y2'),
  {x: xs(cibicidoides_d13C), y: ys(cibicidoides_d13C), xaxis: 'x', yaxis: 'y2', mode: 'markers',
    marker: {symbol: 'square', size: 13, color: '#fff', line: {color: BLUE, width: 1.3}},
    showlegend: false, hoverinfo: 'skip', cliponaxis: false},
  {x: [400], y: [3], xaxis: 'x', yaxis: 'y3', mode: 'none', showlegend: false, hoverinfo: 'skip'},
  {x: [400], y: [0], xaxis: 'x', yaxis: 'y4', mode: 'none', showlegend: false, hoverinfo: 'skip'}
];

const shapes = [];
glacialStart.forEach((s, i) => {
  shapes.push({type: 'rect', xref: 'x', yref: 'y domain',
    x0: s, x1: glacialEnd[i], y0: 0, y1: 1, fillcolor: '#dcdcdc', line: {width: 0}, layer: 'below'});
  shapes.push({type: 'rect', xref: 'x', yref: 'y2 domain',
    x0: s, x1: glacialEnd[i], y0: 0, y1: 1, fillcolor: '#dcdcdc', line: {width: 0}, layer: 'below'});
});
// frame
shapes.push({type: 'rect', xref: 'paper', yref: 'paper', x0: 0, x1: 1, y0: 0, y1: 1,
  line: {color: FRAME, width: 1.3}, fillcolor: 'rgba(0,0,0,0)', layer: 'above'});

const annotations = [];
function addText(text, x, y, opts) {
  annotations.push(Object.assign({text: text, x: px(x), y: py(y), xref: 'paper', yref: 'paper',
    showarrow: false, xanchor: 'center', yanchor: 'middle',
    font: {family: FONT, size: 17, color: '#000'}}, opts || {}));
}
// legend boxes
function legendBox(x0, y0, x1, y1) {
  shapes.push({type: 'rect', xref: 'paper', yref: 'paper', x0: px(x0), x1: px(x1), y0: py(y1), y1: py(y0),
    fillcolor: '#fff', line: {color: FRAME, width: 1.2}, layer: 'above'});
}
function legendLine(x0, x1, y, color) {
  shapes.push({type: 'line', xref: 'paper', yref: 'paper', x0: px(x0), x1: px(x1), y0: py(y), y1: py(y),
    line: {color: color, width: 2.6}, layer: 'above'});
}
function legendCircle(x, y) {
  shapes.push({type: 'circle', xref: 'paper', yref: 'paper', x0: px(x - 3.5), x1: px(x + 3.5),
    y0: py(y + 3.5), y1: py(y - 3.5), fillcolor: '#fff', line: {color: BLUE, width: 1.3}, layer: 'above'});
}
function legendSquare(x, y) {
  shapes.push({type: 'rect', xref: 'paper', yref: 'paper', x0: px(x - 6.5), x1: px(x + 6.5),
    y0: py(y + 6.5), y1: py(y - 6.5), fillcolor: '#fff', line: {color: BLUE, width: 1.3}, layer: 'above'});
}
function legendText(text, x, y, color, italic) {
  addText(text, x, y, {xanchor: 'left', font: {family: FONT, size: 16, color: color, style: italic ? 'italic' : 'normal'}});
}

// Legend A-left
legendBox(141, 43, 349, 89);
legendLine(150, 193, 59.5, BLUE); legendText('N. pachyderma\u00a0 s', 197, 59.5, BLUE, true);
legendLine(150, 193, 75.5, BLUE); legendCircle(171.5, 75.5); legendText('E. exigua', 197, 75.5, BLUE, true);
// Legend A-right
legendBox(787, 36, 1074, 82);
legendLine(797, 839, 51, RED); legendText('ODP 849 Eq. Pacific 3839 m', 843, 51, RED, false);
legendLine(797, 839, 67, GREEN); legendText('DSDP 607 N. Atlantic 3427 m', 843, 67, GREEN, false);
// Legend B-left
legendBox(144, 443, 342, 504);
legendLine(153, 194, 457, BLUE); legendText('N.pachyderma s', 199, 457, BLUE, true);
legendLine(153, 194, 473.5, BLUE); legendCircle(173, 473.5); legendText('E exigua +0.9', 199, 473.5, BLUE, true);
legendSquare(173, 489.5); legendText('Cibicidoides spp.', 199, 489.5, BLUE, true);
// Legend B-right
legendBox(784, 431, 1067, 476);
legendLine(792, 834, 446, RED); legendText('ODP 849 Eq. Pacific 3839 m', 839, 446, RED, false);
legendLine(792, 834, 462, GREEN); legendText('DSDP 607 N. Atlantic 3427 m', 839, 462, GREEN, false);

// panel labels
addText('<b>A</b>', 180, 118, {font: {family: FONT, size: 21, color: '#000'}});
addText('<b>δ<sup>18</sup>O</b>', 180, 160, {font: {family: FONT, size: 23, color: '#000'}});
addText('<b>B</b>', 183, 748, {font: {family: FONT, size: 21, color: '#000'}});
addText('<b>δ<sup>13</sup>C</b>', 183, 792, {font: {family: FONT, size: 23, color: '#000'}});

// axis titles
const tf = c => ({family: FONT, size: 20, color: c});
addText('δ<sup>18</sup>O (‰)', 33, 253, {textangle: -90, font: tf(BLUE)});
addText('Wedell Sea', 59, 292, {textangle: -90, font: tf(BLUE)});
addText('δ<sup>13</sup>C (‰)', 33, 604, {textangle: -90, font: tf(BLUE)});
addText('Wedell Sea', 59, 640, {textangle: -90, font: tf(BLUE)});
addText('δ<sup>18</sup>O (‰)', 1176, 270, {textangle: -90, font: tf('#000')});
addText('δ<sup>13</sup>C (‰)', 1176, 602, {textangle: -90, font: tf('#000')});
addText('Age (kyrs)', 614, 912, {font: tf('#000')});

// stage labels
const stageY = [836, 836, 835, 832, 833, 832, 826, 831, 827];
stageNumbers.forEach((s, i) => annotations.push({text: s, x: stageAges[i], y: py(stageY[i]),
  xref: 'x', yref: 'paper', showarrow: false, bgcolor: '#fff', borderpad: 1,
  xanchor: 'center', yanchor: 'middle',
  font: {family: FONT, size: 18, color: '#000'}}));

const axisCommon = {ticks: 'inside', ticklen: 8, tickwidth: 1.3, tickcolor: FRAME,
  showgrid: false, zeroline: false, showline: false, tickfont: {family: FONT, size: 18, color: '#000'},
  tickmode: 'array', fixedrange: true};
const minorY = {tickmode: 'array', tickvals: d18MinorTicks, ticks: 'inside', ticklen: 8, tickwidth: 1.3, tickcolor: FRAME, showgrid: false};

const layout = {
  width: 1191, height: 926,
  margin: {l: L, r: 1191 - R, t: T, b: 926 - B, pad: 0},
  paper_bgcolor: '#fff', plot_bgcolor: 'rgba(0,0,0,0)',
  showlegend: false,
  font: {family: FONT},
  xaxis: Object.assign({}, axisCommon, {domain: [0, 1], range: [0, 800], anchor: 'y2',
    tickvals: xMajorTicks, ticktext: xMajorTicks.map(String), ticklabelstandoff: 10,
    minor: {tickmode: 'array', tickvals: xMinorTicks, ticks: 'inside', ticklen: 8, tickwidth: 1.3, tickcolor: FRAME, showgrid: false}}),
  yaxis: Object.assign({}, axisCommon, {domain: topDomain, range: topRange, anchor: 'x',
    tickvals: d18Ticks, ticktext: d18Ticks.map(v => v.toFixed(1)), ticklabelstandoff: 21, minor: minorY}),
  yaxis2: Object.assign({}, axisCommon, {domain: botDomain, range: botRange, anchor: 'x',
    tickvals: d13Ticks, ticktext: d13Ticks.map(String), ticklabelstandoff: 21}),
  yaxis3: Object.assign({}, axisCommon, {overlaying: 'y', side: 'right', range: topRange, anchor: 'x',
    tickvals: d18Ticks, ticktext: d18Ticks.map(v => v.toFixed(1)), ticklabelstandoff: 30, minor: minorY}),
  yaxis4: Object.assign({}, axisCommon, {overlaying: 'y2', side: 'right', range: botRange, anchor: 'x',
    tickvals: d13Ticks, ticktext: d13Ticks.map(String), ticklabelstandoff: 30}),
  shapes: shapes,
  annotations: annotations
};

Plotly.newPlot('chart', traces, layout, {displayModeBar: false, staticPlot: true});
</script>
</body></html>
